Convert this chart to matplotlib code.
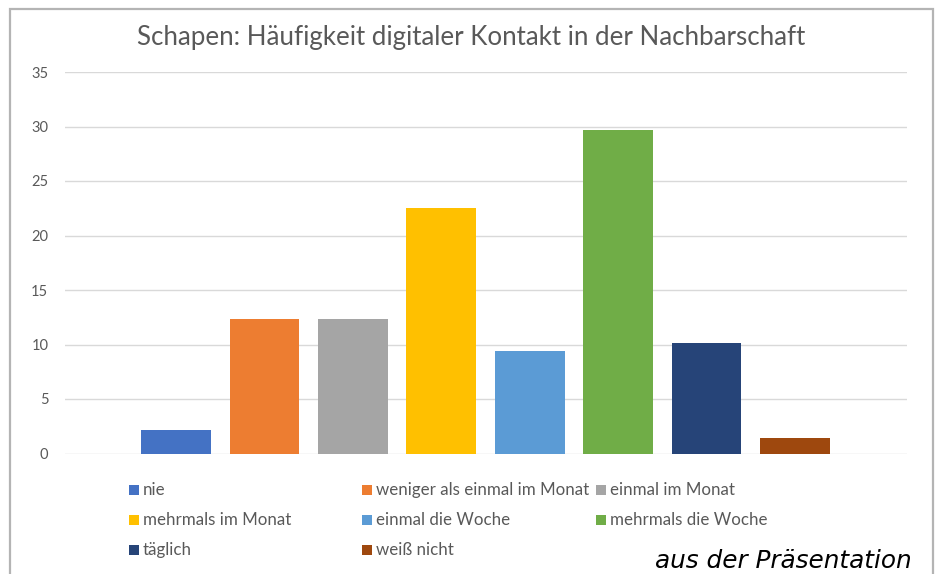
import matplotlib.pyplot as plt
from matplotlib.patches import Rectangle

categories = ["nie", "weniger als einmal im Monat", "einmal im Monat",
              "mehrmals im Monat", "einmal die Woche", "mehrmals die Woche",
              "täglich", "weiß nicht"]
values = [2.2, 12.3, 12.3, 22.5, 9.4, 29.7, 10.1, 1.4]
colors = ["#4472C4", "#ED7D31", "#A5A5A5", "#FFC000",
          "#5B9BD5", "#70AD47", "#264478", "#9E480E"]
yticks = [0, 5, 10, 15, 20, 25, 30, 35]

W, H = 938, 574
fig = plt.figure(figsize=(W / 100, H / 100), dpi=100)
fig.patch.set_facecolor("white")

# chart frame
fig.patches.append(Rectangle((10 / W, -0.05), 923 / W, (H - 9) / H + 0.05,
                             transform=fig.transFigure, fill=False,
                             edgecolor="#b4b4b4", linewidth=1.6))

# plot area: x 65..907, y 72..453.5
ax = fig.add_axes([65 / W, 1 - 453.5 / H, 842 / W, 381.5 / H])
x = list(range(len(values)))
ax.bar(x, values, width=0.79, color=colors, zorder=3)
ax.set_xlim(-1.256, 7 + 1.267)
ax.set_ylim(0, 35)
ax.set_yticks(yticks)
ax.set_xticks([])
ax.yaxis.grid(True, color="#d9d9d9", linewidth=1.0, zorder=0)
for s in ax.spines.values():
    s.set_visible(False)
ax.tick_params(axis="y", length=0, pad=12, labelsize=10.5, labelcolor="#595959")
for lab in ax.get_yticklabels():
    lab.set_fontfamily("Lato")

fig.text(471 / W, 1 - 37 / H, "Schapen: Häufigkeit digitaler Kontakt in der Nachbarschaft",
         ha="center", va="center", fontsize=18.6, color="#595959", family="Lato")

# legend, 3 columns laid out row-wise
col_x = [129, 362, 596]
row_y = [490, 520, 550]
for i, (cat, c) in enumerate(zip(categories, colors)):
    r, k = divmod(i, 3)
    fig.patches.append(Rectangle((col_x[k] / W, 1 - (row_y[r] + 5) / H),
                                 10 / W, 10 / H, transform=fig.transFigure,
                                 facecolor=c, edgecolor="none"))
    fig.text((col_x[k] + 14) / W, 1 - row_y[r] / H, cat, ha="left", va="center",
             fontsize=12.2, color="#595959", family="Lato")

fig.text(912 / W, 1 - 568 / H, "aus der Präsentation", ha="right", va="baseline",
         fontsize=17.8, style="italic", color="black", family="DejaVu Sans")

fig.savefig("out.png", dpi=100)
